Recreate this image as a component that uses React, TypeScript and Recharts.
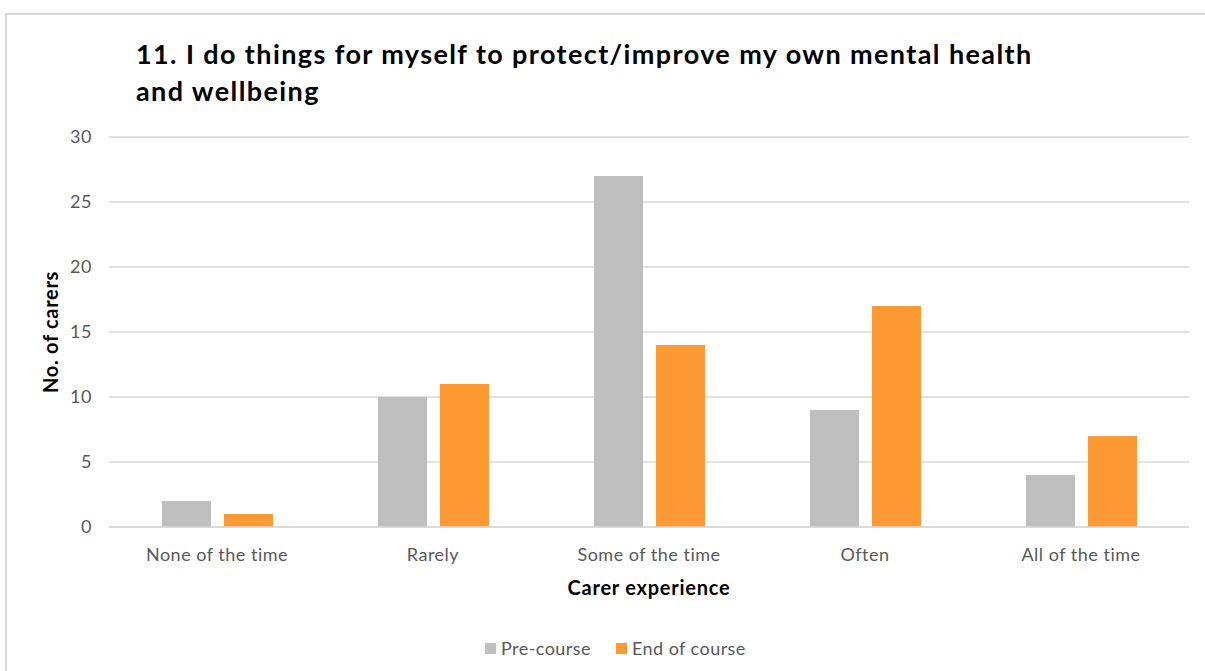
import React from 'react';
import { BarChart, Bar, XAxis, YAxis, CartesianGrid, Legend } from 'recharts';

const categories = ['None of the time', 'Rarely', 'Some of the time', 'Often', 'All of the time'];
const preCourse = [2, 10, 27, 9, 4];
const endOfCourse = [1, 11, 14, 17, 7];
const yTicks = [0, 5, 10, 15, 20, 25, 30];

const data = categories.map((c, i) => ({ name: c, pre: preCourse[i], end: endOfCourse[i] }));

const FONT = 'Lato, "Open Sans", sans-serif';
const GRAY_TEXT = '#595959';

const LegendContent = () => (
  <div style={{ display: 'flex', justifyContent: 'flex-start', alignItems: 'center', paddingLeft: 485, fontFamily: FONT, fontSize: 18, letterSpacing: 0.45, color: GRAY_TEXT }}>
    <span style={{ display: 'inline-block', width: 11, height: 11, background: '#bfbfbf', marginRight: 5 }} />
    <span style={{ marginRight: 25 }}>Pre-course</span>
    <span style={{ display: 'inline-block', width: 11, height: 11, background: '#ff9933', marginRight: 5 }} />
    <span>End of course</span>
  </div>
);

export default function App() {
  return (
    <div style={{ position: 'absolute', left: 0, top: 0, width: 1205, height: 671, overflow: 'hidden', background: '#fff' }}>
      <div style={{ position: 'absolute', left: 5, top: 13, width: 1220, height: 700, border: '2px solid #d9d9d9', boxSizing: 'border-box' }} />
      <div style={{ position: 'absolute', left: 136, top: 35, fontFamily: FONT, fontWeight: 700, fontSize: 27, letterSpacing: 1.4, lineHeight: '37px', color: '#000', whiteSpace: 'nowrap' }}>
        11. I do things for myself to protect/improve my own mental health<br />and wellbeing
      </div>
      <div style={{ position: 'absolute', left: 0, top: 0 }}>
        <BarChart width={1205} height={671} data={data} margin={{ top: 137, right: 16, bottom: 64, left: 0 }} barSize={49} barGap={13}>
          <CartesianGrid vertical={false} stroke="#d9d9d9" strokeWidth={1.5} />
          <XAxis
            dataKey="name"
            height={80}
            axisLine={{ stroke: '#d9d9d9', strokeWidth: 1.5 }}
            tickLine={false}
            tickMargin={15}
            tick={{ fill: GRAY_TEXT, fontSize: 18, fontFamily: FONT, letterSpacing: 0.5 }}
            label={{ value: 'Carer experience', position: 'insideBottom', offset: 12, fill: '#000', fontSize: 20, fontWeight: 700, fontFamily: FONT, letterSpacing: 0.75 }}
          />
          <YAxis
            width={109}
            domain={[0, 30]}
            ticks={yTicks}
            axisLine={false}
            tickLine={false}
            tickMargin={11}
            tick={{ fill: GRAY_TEXT, fontSize: 18, fontFamily: FONT, letterSpacing: 0.5 }}
            label={{ value: 'No. of carers', angle: -90, position: 'center', dx: -4, fill: '#000', fontSize: 20, fontWeight: 700, fontFamily: FONT, letterSpacing: 0.7 }}
          />
          <Legend
            layout="vertical"
            align="center"
            verticalAlign="middle"
            content={<LegendContent />}
            wrapperStyle={{ position: 'absolute', top: 637, left: 0, width: 1205 }}
          />
          <Bar dataKey="pre" name="Pre-course" fill="#bfbfbf" isAnimationActive={false} />
          <Bar dataKey="end" name="End of course" fill="#ff9933" isAnimationActive={false} />
        </BarChart>
      </div>
    </div>
  );
}
